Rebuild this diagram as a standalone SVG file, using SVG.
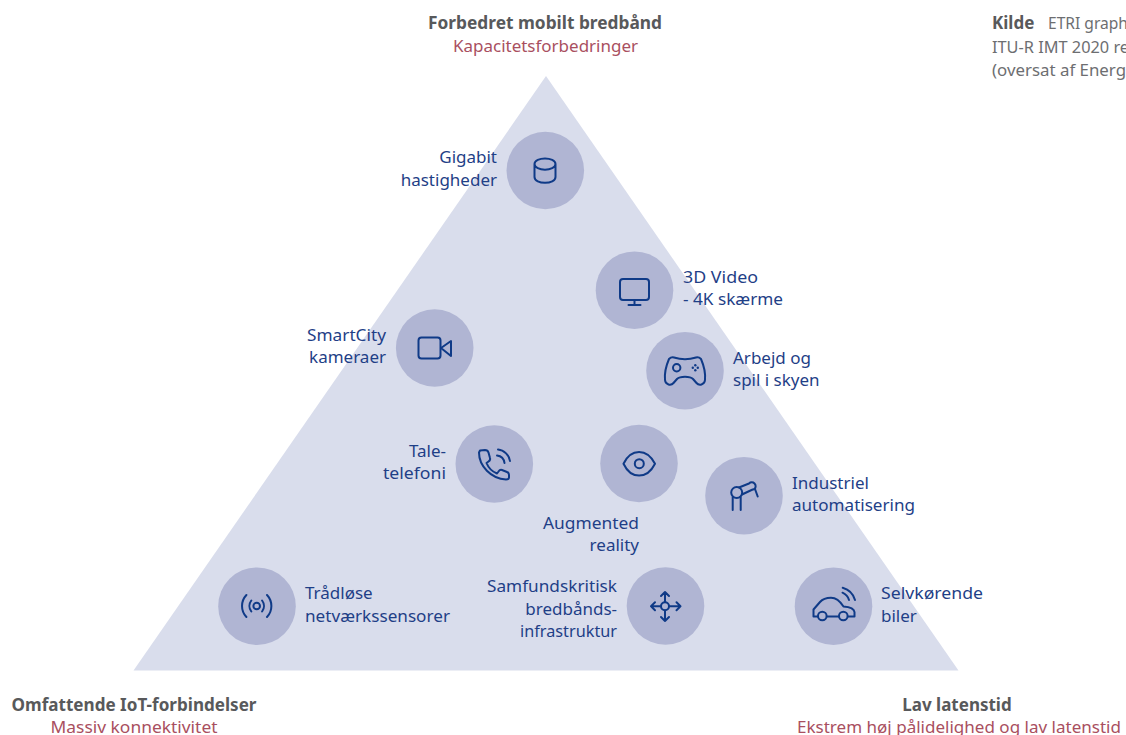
<svg xmlns="http://www.w3.org/2000/svg" width="1126" height="735" viewBox="0 0 1126 735">
<style>
text{font-family:"Noto Sans","Open Sans","Liberation Sans",sans-serif;font-size:17px}
.l{fill:#1f3f87}
.e{text-anchor:end}
.h{font-weight:700;fill:#58595b;text-anchor:middle}
.r{fill:#a94f60;text-anchor:middle}
.g{fill:#6d6e71}
.b{font-weight:700;fill:#58595b}
.c{fill:#b0b5d3}
.i{fill:none;stroke:#0f3a87;stroke-width:2;stroke-linecap:round;stroke-linejoin:round}
.d{fill:#0f3a87}
</style>
<rect width="1126" height="735" fill="#fff"/>
<polygon id="triangle" points="546,76 958.500,670.500 133.500,670.500" fill="#d9ddec"/>
<g id="connectors"/>
<g id="title-top"><text class="h" x="545" y="28.500" textLength="234" lengthAdjust="spacingAndGlyphs">Forbedret mobilt bredbånd</text><text class="r" x="545.500" y="52" textLength="185" lengthAdjust="spacingAndGlyphs">Kapacitetsforbedringer</text></g>
<g id="title-left"><text class="h" x="134" y="711" textLength="245" lengthAdjust="spacingAndGlyphs">Omfattende IoT-forbindelser</text><text class="r" x="134" y="733" textLength="167" lengthAdjust="spacingAndGlyphs">Massiv konnektivitet</text></g>
<g id="title-right"><text class="h" x="957" y="711">Lav latenstid</text><text class="r" x="959" y="733" textLength="324" lengthAdjust="spacingAndGlyphs">Ekstrem høj pålidelighed og lav latenstid</text></g>
<g id="source"><text class="b" x="992" y="29">Kilde</text><text class="g" x="1048" y="29" textLength="80" lengthAdjust="spacingAndGlyphs">ETRI graph</text><text class="g" x="992" y="53" textLength="137" lengthAdjust="spacingAndGlyphs">ITU-R IMT 2020 re</text><text class="g" x="992" y="76" textLength="134" lengthAdjust="spacingAndGlyphs">(oversat af Energ</text></g>

<g id="gigabit"><circle class="c" cx="545.300" cy="170.500" r="38.800"/>
<path class="i" d="M534.500 164C534.500 156.500 555.500 156.500 555.500 164V177C555.500 184.700 534.500 184.700 534.500 177ZM534.500 164C534.500 171.500 555.500 171.500 555.500 164"/>
<text class="l e" x="497" y="163">Gigabit</text><text class="l e" x="497" y="186">hastigheder</text></g>

<g id="video"><circle class="c" cx="634.500" cy="290.200" r="38.800"/>
<rect class="i" x="620" y="279" width="29" height="21" rx="3"/><path class="i" d="M634.500 300V305M628.500 305H640.500"/>
<text class="l" x="683" y="283" textLength="75" lengthAdjust="spacingAndGlyphs">3D Video</text><text class="l" x="683" y="305" textLength="100" lengthAdjust="spacingAndGlyphs">- 4K skærme</text></g>

<g id="camera"><circle class="c" cx="434.700" cy="348" r="38.800"/>
<rect class="i" x="418.500" y="337.500" width="22" height="21" rx="3"/><path class="i" d="M441 348L451 341V356Z"/>
<text class="l e" x="386" y="341" textLength="79" lengthAdjust="spacingAndGlyphs">SmartCity</text><text class="l e" x="386" y="363">kameraer</text></g>

<g id="gaming"><circle class="c" cx="685" cy="370.700" r="38.800"/>
<path class="i" d="M674 357.500Q685 361 696 357.500C698 357 700 358 701 359C704 366 705.500 375 705 380C704.500 385 699 386 696.500 383L693 379C690 376 680 376 677 379L673.500 383C671 386 665.500 385 665 380C664.500 375 666 366 669 359C670 358 672 357 674 357.500Z"/><circle class="i" cx="676.700" cy="367.700" r="3.700"/>
<circle class="d" cx="695.300" cy="365.200" r="1.200"/><circle class="d" cx="695.300" cy="370.200" r="1.200"/><circle class="d" cx="692.800" cy="367.700" r="1.200"/><circle class="d" cx="697.800" cy="367.700" r="1.200"/>
<text class="l" x="733" y="364">Arbejd og</text><text class="l" x="733" y="386">spil i skyen</text></g>

<g id="telephony"><circle class="c" cx="494.300" cy="464" r="38.800"/>
<path class="i" d="M480 450.500L485 450C487 450 488 451 488.500 452.500L490 458C490.500 459.500 490 460.500 488.500 461.500L486.500 463C488.500 468 492 471.500 497 473.500L498.500 471.500C499.500 470 500.500 469.500 502 470L507 472C508.500 472.500 509 473.500 509 475V477.500C509 479 507.500 479.500 506 479.500C491 478.500 479 466 479 452.500Z"/>
<path class="i" d="M497 455.500C501 456 504 459 504.500 463M498 449.500C504 450 509.500 455.500 510 461"/>
<text class="l e" x="446" y="457">Tale-</text><text class="l e" x="446" y="479" textLength="63" lengthAdjust="spacingAndGlyphs">telefoni</text></g>

<g id="ar"><circle class="c" cx="639" cy="463.500" r="38.800"/>
<path class="i" d="M623.500 463.700C631 448 647 448 655 463.700C647 479.500 631 479.500 623.500 463.700Z"/><circle class="i" cx="639.300" cy="463.700" r="4.500"/>
<text class="l e" x="639" y="529" textLength="96" lengthAdjust="spacingAndGlyphs">Augmented</text><text class="l e" x="639" y="551">reality</text></g>

<g id="industry"><circle class="c" cx="744" cy="495.700" r="38.800"/>
<circle class="i" cx="736.700" cy="492.500" r="5.500"/><path class="i" d="M732.700 510V497M740.700 510V497M739 487.500L749 483.500M742 494.500L750.500 490.500M749 483.500A3.800 3.800 0 1 1 754.500 489M750.500 490.500C751.500 490 752 489.800 754.500 489M755 489L757.700 496.500"/>
<text class="l" x="792" y="489">Industriel</text><text class="l" x="792" y="511" textLength="123" lengthAdjust="spacingAndGlyphs">automatisering</text></g>

<g id="sensors"><circle class="c" cx="257" cy="606.200" r="38.800"/>
<circle class="i" cx="256.700" cy="606" r="3.300"/><path class="i" d="M251.300 600.500A9 9 0 0 0 251.300 611.500M262.100 600.500A9 9 0 0 1 262.100 611.500M246.400 595A16 16 0 0 0 246.400 617M267 595A16 16 0 0 1 267 617"/>
<text class="l" x="305" y="599">Trådløse</text><text class="l" x="305" y="622" textLength="145" lengthAdjust="spacingAndGlyphs">netværkssensorer</text></g>

<g id="critical"><circle class="c" cx="665.500" cy="606" r="38.800"/>
<circle class="i" cx="665" cy="606.300" r="4"/><path class="i" d="M665 602V592M665 610.500V621M661 606.300H651M669 606.300H680.500M661 596L665 592L669 596M661 617L665 621L669 617M655 602.300L651 606.300L655 610.300M676.500 602.300L680.500 606.300L676.500 610.300"/>
<text class="l e" x="617" y="592" textLength="130" lengthAdjust="spacingAndGlyphs">Samfundskritisk</text><text class="l e" x="617" y="615">bredbånds-</text><text class="l e" x="617" y="637" textLength="97" lengthAdjust="spacingAndGlyphs">infrastruktur</text></g>

<g id="selfdriving"><circle class="c" cx="833.500" cy="606.200" r="38.800"/>
<path class="i" d="M818 616.500H813.500V609.500L820 602C823 598.500 827 597.700 831 597.700C836 597.700 840 601 843.500 606.500C849 607 854 608 854.500 612V616.500H848M827 616.500H839"/><circle class="i" cx="822.300" cy="616" r="4.300"/><circle class="i" cx="843.300" cy="616" r="4.300"/>
<path class="i" d="M842.500 592.700C845.500 594 848 596.500 849 600M842.700 587.700C849 589.500 853.500 594.500 855 600"/>
<text class="l" x="881" y="599" textLength="102" lengthAdjust="spacingAndGlyphs">Selvkørende</text><text class="l" x="881" y="622">biler</text></g>
</svg>
